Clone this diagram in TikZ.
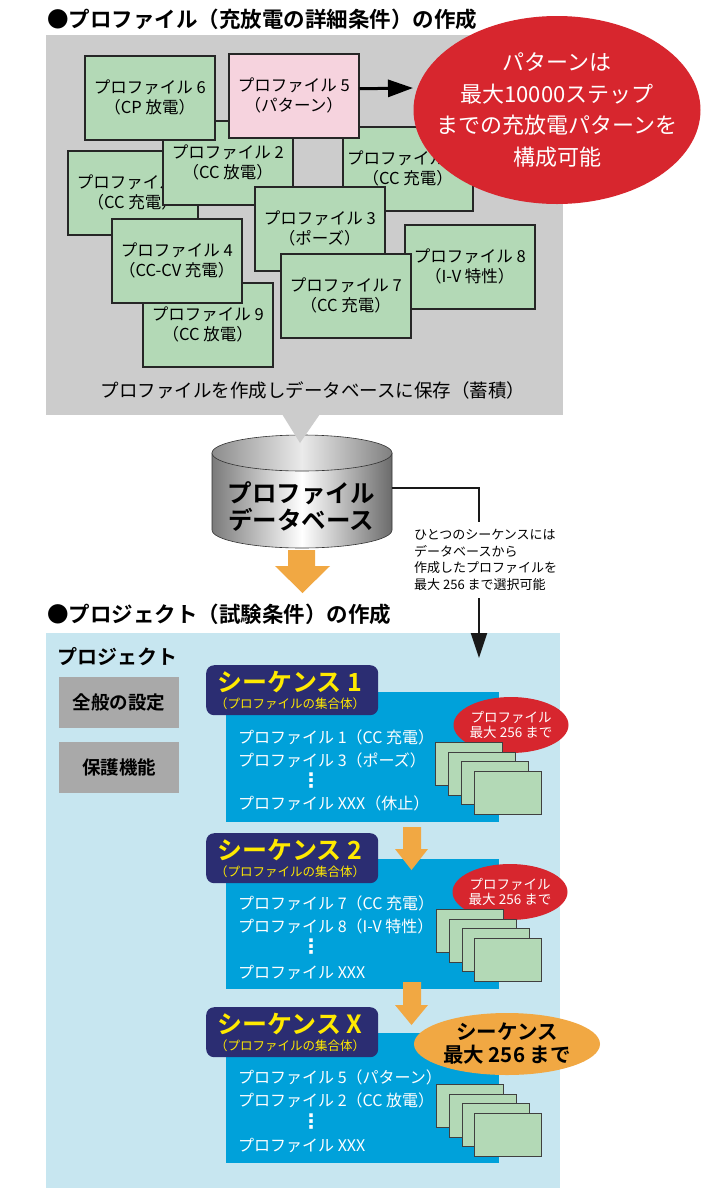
\documentclass[tikz,border=0pt]{standalone}
\usepackage{fontspec}
\setmainfont{Noto Sans CJK JP}[BoldFont={Noto Sans CJK JP Bold}]
\newfontfamily\djv{DejaVu Sans}
\usetikzlibrary{arrows.meta,shapes.geometric}
\definecolor{panelgray}{HTML}{CCCCCC}
\definecolor{pgreen}{HTML}{B3D9B6}
\definecolor{ppink}{HTML}{F6D3DE}
\definecolor{bigred}{HTML}{D7262E}
\definecolor{lblue}{HTML}{C7E6F0}
\definecolor{sblue}{HTML}{00A1DA}
\definecolor{navy}{HTML}{2B2D72}
\definecolor{syellow}{HTML}{FFEA00}
\definecolor{orng}{HTML}{F1A843}
\definecolor{btngray}{HTML}{A9A9A9}
\begin{document}
\begin{tikzpicture}[x=1pt,y=-1pt,
  pbox/.style={draw=black!85,line width=1.5pt,fill=pgreen,minimum width=130pt,minimum height=84pt,inner sep=0pt,align=center,font=\fontsize{16.5}{20}\selectfont,anchor=north west},
  titletext/.style={font=\bfseries\fontsize{21.5}{21.5}\selectfont,anchor=west,inner sep=0pt},
  btn/.style={fill=btngray,minimum width=120pt,minimum height=51pt,inner sep=0pt,anchor=north west,font=\bfseries\fontsize{18.5}{18.5}\selectfont},
  seqbody/.style={fill=sblue,minimum width=273pt,minimum height=130pt,inner sep=0pt,anchor=north west},
  seqhead/.style={fill=navy,rounded corners=8pt,minimum width=172pt,minimum height=50pt,inner sep=0pt,anchor=north west},
  seqtitle/.style={text=syellow,inner sep=0pt,font=\bfseries\fontsize{25}{25}\selectfont},
  seqsub/.style={text=syellow,inner sep=0pt,font=\fontsize{12.5}{12.5}\selectfont},
  seqline/.style={text=white,anchor=west,inner sep=0pt,font=\fontsize{16}{16}\selectfont},
  seqdots/.style={text=white,inner sep=0pt,font=\djv\bfseries\fontsize{20}{20}\selectfont},
  minirect/.style={draw=black!75,line width=0.9pt,fill=pgreen,minimum width=67pt,minimum height=43pt,inner sep=0pt,anchor=north west},
  cntell/.style={ellipse,fill=bigred,inner sep=0pt,minimum width=115pt,minimum height=56pt},
  cnttext/.style={text=white,inner sep=0pt,align=center,font=\fontsize{13.5}{15.5}\selectfont},
  conn/.style={line width=2pt,draw=black!90},
  blockarrow/.style={fill=orng}
]
\useasboundingbox (0,0) rectangle (709,1200);
\fill[white] (0,0) rectangle (709,1200);

% ---------- section 1 ----------
\node[titletext] (title1) at (47,19) {●プロファイル（充放電の詳細条件）の作成};
\fill[panelgray] (46,35) rectangle (563,415);

\node[pbox] (p1)  at (67,150)  {プロファイル 1\\（CC 充電）};
\node[pbox] (p10) at (342,126) {プロファイル 10\\（CC 充電）};
\node[pbox] (p2)  at (162,120) {プロファイル 2\\（CC 放電）};
\node[pbox] (p6)  at (84,55)   {プロファイル 6\\（CP 放電）};
\node[pbox,fill=ppink] (p5) at (228,53) {プロファイル 5\\（パターン）};
\node[pbox] (p3)  at (254,186) {プロファイル 3\\（ポーズ）};
\node[pbox] (p9)  at (142,282) {プロファイル 9\\（CC 放電）};
\node[pbox] (p4)  at (111,218) {プロファイル 4\\（CC-CV 充電）};
\node[pbox] (p8)  at (404,224) {プロファイル 8\\（I-V 特性）};
\node[pbox] (p7)  at (280,253) {プロファイル 7\\（CC 充電）};

\node[ellipse,fill=bigred,inner sep=0pt,minimum width=287pt,minimum height=188pt] (pat) at (557,110) {};
\node[text=white,inner sep=0pt,align=center,font=\fontsize{22}{31.5}\selectfont] (pattext) at (pat.center) {パターンは\\最大10000ステップ\\までの充放電パターンを\\構成可能};

\coordinate (p5tip) at (413,88);
\draw[line width=3pt,-{Triangle[length=25pt,width=17pt]}] ([yshift=7pt]p5.east) -- (p5tip);

\node[font=\fontsize{18.5}{18.5}\selectfont,inner sep=0pt] (cap1) at (313,390) {プロファイルを作成しデータベースに保存（蓄積）};

% ---------- database cylinder ----------
\shade[left color=black!52,right color=black!58,middle color=white,draw=black!80,line width=0.6pt]
  (212,453) -- (212,530) arc[start angle=180,end angle=0,x radius=90,y radius=18] -- (392,453) -- cycle;
\shade[left color=black!45,right color=black!50,middle color=white!92!black,draw=black!80,line width=0.6pt]
  (302,453) ellipse[x radius=90,y radius=18];
\fill[panelgray] (282,414) -- (320,414) -- (300,443) -- cycle;
\node[font=\bfseries\fontsize{24.5}{27}\selectfont,align=center,inner sep=0pt] (db) at (301,506) {プロファイル\\データベース};

\coordinate (cylR) at (392,488);
\coordinate (c1) at (479,522);
\draw[conn] (cylR) -| (c1);
\node[font=\fontsize{13}{16.5}\selectfont,align=left,anchor=north west,inner sep=0pt] (note) at (414,529) {ひとつのシーケンスには\\データベースから\\作成したプロファイルを\\最大 256 まで選択可能};
\coordinate (c2) at (479,598);
\coordinate (seqin) at (479,658);

% orange block arrow under cylinder
\fill[blockarrow] (288,550) -- (315,550) -- (315,566) -- (330,566) -- (302.5,593) -- (275,566) -- (288,566) -- cycle;

% ---------- section 2 ----------
\node[titletext] (title2) at (47,614) {●プロジェクト（試験条件）の作成};
\fill[lblue] (46,633) rectangle (560,1188);
\draw[conn,-{Triangle[length=25pt,width=16pt]}] (c2) -- (seqin);

\node[font=\bfseries\fontsize{20}{20}\selectfont,anchor=west,inner sep=0pt] (proj) at (57,657) {プロジェクト};
\node[btn] (gen) at (59,677) {全般の設定};
\node[btn] (prot) at (59,742) {保護機能};

% sequence 1
\node[seqbody] (s1body) at (226,692) {};
\node[seqhead] (s1head) at (206,665) {};
\node[seqtitle] (s1t) at (290,682) {シーケンス 1};
\node[seqsub] (s1s) at (290,704) {（プロファイルの集合体）};
\node[seqline] (s1a) at (238,737) {プロファイル 1（CC 充電）};
\node[seqline] (s1b) at (238,760) {プロファイル 3（ポーズ）};
\node[seqdots] (s1d) at (311,781) {⋮};
\node[seqline] (s1c) at (238,803) {プロファイル XXX（休止）};
\node[cntell] (s1cnt) at (511,725) {};
\node[cnttext] (s1ct) at (s1cnt.center) {プロファイル\\最大 256 まで};
\node[minirect] (s1r1) at (435,742) {};
\node[minirect] (s1r2) at (448,751.5) {};
\node[minirect] (s1r3) at (461,761) {};
\node[minirect] (s1r4) at (474,770.5) {};

% sequence 2
\node[seqbody] (s2body) at (226,859) {};
\fill[blockarrow] (403,827) -- (421,827) -- (421,849) -- (428,849) -- (411.5,870) -- (395,849) -- (403,849) -- cycle;
\node[seqhead] (s2head) at (206,833) {};
\node[seqtitle] (s2t) at (290,850) {シーケンス 2};
\node[seqsub] (s2s) at (290,872) {（プロファイルの集合体）};
\node[seqline] (s2a) at (238,903) {プロファイル 7（CC 充電）};
\node[seqline] (s2b) at (238,926) {プロファイル 8（I-V 特性）};
\node[seqdots] (s2d) at (311,947) {⋮};
\node[seqline] (s2c) at (238,972) {プロファイル XXX};
\node[cntell] (s2cnt) at (510,892) {};
\node[cnttext] (s2ct) at (s2cnt.center) {プロファイル\\最大 256 まで};
\node[minirect] (s2r1) at (436,909) {};
\node[minirect] (s2r2) at (449,918.5) {};
\node[minirect] (s2r3) at (461.5,928) {};
\node[minirect] (s2r4) at (474,937.5) {};

% sequence X
\node[seqbody] (sxbody) at (226,1033) {};
\fill[blockarrow] (403,982) -- (421,982) -- (421,1005) -- (428,1005) -- (411.5,1025) -- (395,1005) -- (403,1005) -- cycle;
\node[seqhead] (sxhead) at (206,1007) {};
\node[seqtitle] (sxt) at (290,1024) {シーケンス X};
\node[seqsub] (sxs) at (290,1046) {（プロファイルの集合体）};
\node[seqline] (sxa) at (238,1077) {プロファイル 5（パターン）};
\node[seqline] (sxb) at (238,1100) {プロファイル 2（CC 放電）};
\node[seqdots] (sxd) at (311,1122) {⋮};
\node[seqline] (sxc) at (238,1145) {プロファイル XXX};
\node[ellipse,fill=orng,inner sep=0pt,minimum width=186pt,minimum height=62pt] (sxcnt) at (507,1044) {};
\node[inner sep=0pt,align=center,font=\bfseries\fontsize{20.5}{23}\selectfont] (sxct) at (sxcnt.center) {シーケンス\\最大 256 まで};
\node[minirect] (sxr1) at (436,1084) {};
\node[minirect] (sxr2) at (449,1093.5) {};
\node[minirect] (sxr3) at (461.5,1103) {};
\node[minirect] (sxr4) at (474,1112.5) {};
\end{tikzpicture}
\end{document}
